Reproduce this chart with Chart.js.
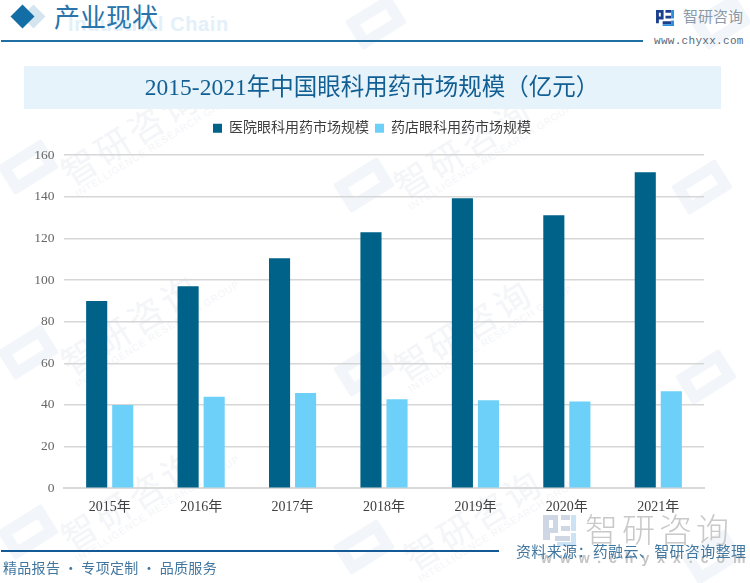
<!DOCTYPE html>
<html lang="zh">
<head>
<meta charset="utf-8">
<script src="https://cdn.jsdelivr.net/npm/chart.js@4"></script>
<style>
html,body{margin:0;padding:0;background:#fff;}
#page{position:relative;width:750px;height:583px;overflow:hidden;font-family:"Liberation Serif","Noto Sans CJK SC",serif;}
#page>*{position:absolute;}
canvas{left:0;top:0;}
.wm{color:#f4f5f8;font-family:"Noto Sans CJK SC";font-size:35px;letter-spacing:4px;transform:rotate(-32deg);white-space:nowrap;line-height:36px;font-weight:400;}
.wm small{display:block;font-family:"Liberation Sans";font-size:10px;letter-spacing:.8px;line-height:11px;font-weight:400;}
.lg{width:52px;height:34px;border:11px solid #f2f6fa;border-radius:2px;box-sizing:border-box;transform:rotate(-32deg);}
</style>
</head>
<body>
<div id="page">
  <div class="lg" style="left:2px;top:150px"></div><div class="lg" style="left:338px;top:168px"></div><div class="lg" style="left:676px;top:170px"></div>
  <div class="lg" style="left:2px;top:335px"></div><div class="lg" style="left:338px;top:352px"></div><div class="lg" style="left:680px;top:360px"></div>
  <div class="lg" style="left:2px;top:515px"></div><div class="lg" style="left:338px;top:530px"></div><div class="lg" style="left:686px;top:540px"></div>
  <div class="lg" style="left:350px;top:5px"></div><div class="lg" style="left:695px;top:5px"></div>
  <div class="wm" style="left:52px;top:105px">智研咨询<small>INTELLIGENCE RESEARCH GROUP</small></div>
  <div class="wm" style="left:385px;top:118px">智研咨询<small>INTELLIGENCE RESEARCH GROUP</small></div>
  <div class="wm" style="left:52px;top:295px">智研咨询<small>INTELLIGENCE RESEARCH GROUP</small></div>
  <div class="wm" style="left:385px;top:300px">智研咨询<small>INTELLIGENCE RESEARCH GROUP</small></div>
  <div class="wm" style="left:52px;top:470px">智研咨询<small>INTELLIGENCE RESEARCH GROUP</small></div>
  <div class="wm" style="left:395px;top:490px">智研咨询<small>INTELLIGENCE RESEARCH GROUP</small></div>

  <div style="left:24px;top:66px;width:697px;height:43px;background:#e6f3fb"></div>

  <div style="left:68px;top:11px;font:700 20px 'Liberation Sans';color:#e3f0fa;letter-spacing:.6px;line-height:26px;white-space:nowrap">Industrial Chain</div>
  <div style="left:25px;top:8px;width:17px;height:17px;background:#d5e5ef;transform:rotate(45deg)"></div>
  <div style="left:14px;top:8px;width:17px;height:17px;background:#146ea6;transform:rotate(45deg)"></div>
  <div style="left:54px;top:1px;font:400 26px/30px 'Noto Sans CJK SC';color:#2a74ab;white-space:nowrap">产业现状</div>
  <div style="left:1px;top:40px;width:642px;height:2px;background:#1f6fa3"></div>

  <svg style="left:656px;top:10px" width="18" height="17" viewBox="0 0 19 18"><path d="M0 0h8v10H3v4H0zM3 3v4h2V3z" fill="#1a3f8c" fill-rule="evenodd"/><path d="M10 0h6v3h-6zM10 6h6v3h-6zM7 12h9v3H7z" fill="#1a3f8c"/><path d="M16 0h3v9h-3zM16 11h3v6H7v-2h9z" fill="#2a8fd8"/></svg>
  <div style="left:683px;top:7px;font:400 15px/18px 'Noto Sans CJK SC';color:#8b9aa8;white-space:nowrap">智研咨询</div>
  <div style="left:654px;top:34px;font:400 11px/14px 'Liberation Mono';color:#56687a;white-space:nowrap;letter-spacing:.3px">www.chyxx.com</div>

  <canvas id="chart" width="750" height="583"></canvas>

  <svg style="left:543px;top:513px" width="33" height="33" viewBox="0 0 33 33"><path d="M0 2h15v18H7v7H0zM6 7v8h4V7z" fill="#cfd6e4" fill-rule="evenodd"/><path d="M18 2h9v5h-9zM18 13h9v5h-9zM12 23h15v5H12z" fill="#cfd6e4"/><path d="M28 2h5v16h-5zM28 20h5v13H14v-4h14z" fill="#cbe3f5"/></svg>
  <div style="left:585px;top:509px;font:300 33px/38px 'Noto Sans CJK SC';color:#c9c9c9;letter-spacing:4px;white-space:nowrap">智研咨询</div>
  <div style="left:541px;top:549px;font:700 14px/18px 'Liberation Sans';color:#c4c4c4;letter-spacing:8px;white-space:nowrap">www.chyxx.com</div>

  <div style="left:1px;top:550px;width:498px;height:2px;background:#135a96"></div>
  <div style="left:3px;top:557px;font:400 14px/20px 'Noto Sans CJK SC';color:#41779f;white-space:nowrap;letter-spacing:.3px">精品报告 • 专项定制 • 品质服务</div>
  <div style="left:516px;top:541px;font:400 15px/20px 'Noto Sans CJK SC';color:#41779f;white-space:nowrap;letter-spacing:.35px">资料来源：药融云、智研咨询整理</div>
</div>
<script>
const categories = ["2015年","2016年","2017年","2018年","2019年","2020年","2021年"];
const hospitalName = "医院眼科用药市场规模";
const pharmacyName = "药店眼科用药市场规模";
const hospitalValues = [90, 97, 110.5, 123, 139.3, 131.2, 151.8];
const pharmacyValues = [40, 44, 45.7, 42.7, 42.2, 41.7, 46.6];
const yTicks = {min: 0, max: 160, step: 20};
const chartTitle = "2015-2021年中国眼科用药市场规模（亿元）";
const cjk = '"Liberation Serif","Noto Sans CJK SC",serif';

const legendGap = {
  id: 'legendGap',
  beforeInit(chart) {
    const fit = chart.legend.fit;
    chart.legend.fit = function () { fit.call(this); this.height += 10; };
  },
  afterLayout(chart) {
    chart.titleBlock.left += 16;
    chart.legend.left += 16;
  }
};

new Chart(document.getElementById('chart'), {
  type: 'bar',
  plugins: [legendGap],
  data: {
    labels: categories,
    datasets: [
      {label: hospitalName, data: hospitalValues, backgroundColor: '#006289'},
      {label: pharmacyName, data: pharmacyValues, backgroundColor: '#6dd0f8'}
    ]
  },
  options: {
    responsive: false,
    animation: false,
    layout: {padding: {left: 24, right: 46, top: 75, bottom: 64}},
    datasets: {bar: {categoryPercentage: 0.57, barPercentage: 0.81}},
    plugins: {
      title: {
        display: true, text: chartTitle, color: '#125f93',
        font: {family: cjk, size: 23.5, weight: '400'},
        padding: {top: 0, bottom: 12}
      },
      legend: {
        position: 'top',
        labels: {
          boxWidth: 9, boxHeight: 9, color: '#3f3f3f',
          font: {family: cjk, size: 14},
          padding: 6
        }
      },
      tooltip: {enabled: false}
    },
    scales: {
      x: {
        grid: {display: false},
        border: {color: '#d9d9d9', width: 2},
        ticks: {color: '#404040', font: {family: cjk, size: 14, weight: '400'}, padding: 3, maxRotation: 0}
      },
      y: {
        min: yTicks.min, max: yTicks.max,
        afterFit(s) { s.width = 40; },
        grid: {color: '#d6d6d6', lineWidth: 1.5, drawTicks: false},
        border: {display: false},
        ticks: {stepSize: yTicks.step, color: '#666666', font: {family: cjk, size: 13.5}, padding: 9.5}
      }
    }
  }
});
</script>
</body>
</html>
